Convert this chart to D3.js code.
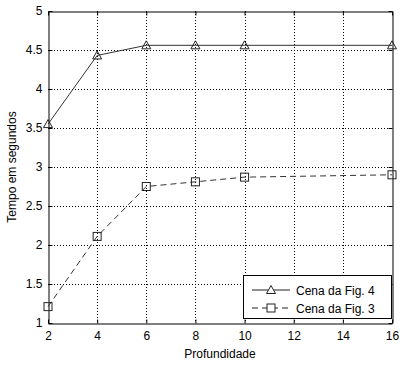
<!DOCTYPE html>
<html><head><meta charset="utf-8">
<script src="https://cdn.jsdelivr.net/npm/d3@7"></script>
<style>body{margin:0;background:#fff}svg{display:block}text{font-family:"Liberation Sans",Arial,sans-serif;}</style>
</head><body>
<svg id="c" width="405" height="367"></svg>
<script>
const profundidade = [2, 4, 6, 8, 10, 16];
const cenaFig4 = [3.55, 4.43, 4.56, 4.56, 4.56, 4.56];
const cenaFig3 = [1.21, 2.11, 2.75, 2.81, 2.87, 2.90];
const xTicks = [2, 4, 6, 8, 10, 12, 14, 16];
const yTicks = [1, 1.5, 2, 2.5, 3, 3.5, 4, 4.5, 5];
const seriesNames = ["Cena da Fig. 4", "Cena da Fig. 3"];

const svg = d3.select("#c");
const L = 48, R = 392, T = 11, B = 323;
const x = d3.scaleLinear().domain([2, 16]).range([L, R]);
const y = d3.scaleLinear().domain([1, 5]).range([B, T]);

// grid
const g = svg.append("g");
g.selectAll(".gx").data(xTicks.slice(1, -1)).enter().append("line")
  .attr("x1", d => Math.round(x(d)) + 0.5).attr("x2", d => Math.round(x(d)) + 0.5)
  .attr("y1", T).attr("y2", B).attr("stroke", "#000").attr("stroke-dasharray", "1,2");
g.selectAll(".gy").data(yTicks.slice(1, -1)).enter().append("line")
  .attr("y1", d => Math.round(y(d)) + 0.5).attr("y2", d => Math.round(y(d)) + 0.5)
  .attr("x1", L).attr("x2", R).attr("stroke", "#000").attr("stroke-dasharray", "1,2");

// axes
const fmt = d3.format("~g");
const ax = svg.append("g").attr("transform", `translate(0,${B + 0.5})`)
  .call(d3.axisBottom(x).tickValues(xTicks).tickSizeInner(-4).tickSizeOuter(0).tickPadding(8).tickFormat(fmt));
const ay = svg.append("g").attr("transform", `translate(${L + 0.5},0)`)
  .call(d3.axisLeft(y).tickValues(yTicks).tickSizeInner(-4).tickSizeOuter(0).tickPadding(6).tickFormat(fmt));
const at = svg.append("g").attr("transform", `translate(0,${T + 0.5})`)
  .call(d3.axisTop(x).tickValues(xTicks).tickSizeInner(-4).tickSizeOuter(0).tickFormat(""));
const ar = svg.append("g").attr("transform", `translate(${R + 0.5},0)`)
  .call(d3.axisRight(y).tickValues(yTicks).tickSizeInner(-4).tickSizeOuter(0).tickFormat(""));
[ax, ay, at, ar].forEach(a => {
  a.selectAll("path,line").attr("stroke", "#000");
  a.selectAll("text").attr("font-size", 12).attr("fill", "#000");
});

// lines
const line = d3.line().x((d, i) => x(profundidade[i])).y(d => y(d));
svg.append("path").datum(cenaFig4).attr("d", line).attr("fill", "none").attr("stroke", "#333").attr("stroke-width", 1);
svg.append("path").datum(cenaFig3).attr("d", line).attr("fill", "none").attr("stroke", "#333").attr("stroke-width", 1).attr("stroke-dasharray", "6,4");

const tri = (cx, cy) => `M${cx},${cy - 4.5}L${cx + 4.5},${cy + 3.5}L${cx - 4.5},${cy + 3.5}Z`;
svg.selectAll(".t").data(cenaFig4).enter().append("path")
  .attr("d", (d, i) => tri(x(profundidade[i]), y(d))).attr("fill", "none").attr("stroke", "#222");
svg.selectAll(".s").data(cenaFig3).enter().append("rect")
  .attr("x", (d, i) => x(profundidade[i]) - 4).attr("y", d => y(d) - 4)
  .attr("width", 8).attr("height", 8).attr("fill", "none").attr("stroke", "#222");

// labels
svg.append("text").attr("x", (L + R) / 2).attr("y", 358).attr("text-anchor", "middle").attr("font-size", 12).text("Profundidade");
svg.append("text").attr("transform", `translate(16,${(T + B) / 2}) rotate(-90)`).attr("text-anchor", "middle").attr("font-size", 12).text("Tempo em segundos");

// legend
const lg = svg.append("g");
lg.append("rect").attr("x", 243.5).attr("y", 275.5).attr("width", 148).attr("height", 43).attr("fill", "#fff").attr("stroke", "#000");
const rows = [290, 308];
rows.forEach((ry, i) => {
  lg.append("line").attr("x1", 252).attr("x2", 290).attr("y1", ry).attr("y2", ry).attr("stroke", "#222")
    .attr("stroke-dasharray", i === 1 ? "6,4" : null);
  if (i === 0) lg.append("path").attr("d", tri(271, ry)).attr("fill", "#fff").attr("stroke", "#222");
  else lg.append("rect").attr("x", 267).attr("y", ry - 4).attr("width", 8).attr("height", 8).attr("fill", "#fff").attr("stroke", "#222");
  lg.append("text").attr("x", 296).attr("y", ry + 4.5).attr("font-size", 12).text(seriesNames[i]);
});
</script>
</body></html>
